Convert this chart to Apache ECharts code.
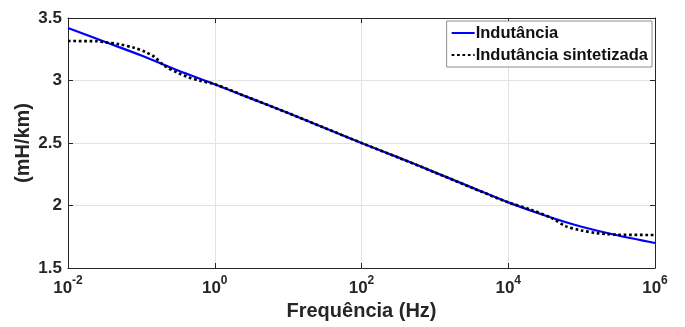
<!DOCTYPE html>
<html>
<head>
<meta charset="utf-8">
<script src="https://cdn.jsdelivr.net/npm/echarts@6/dist/echarts.min.js"></script>
<style>
html,body{margin:0;padding:0;background:#fff;}
#c{width:685px;height:327px;}
</style>
</head>
<body>
<div id="c"></div>
<script>
// Frequency (Hz) and inductance (mH/km)
const freqMeasured = [1e-2, 3.16e-2, 1e-1, 3.16e-1, 1e0, 3.16e0, 1e1, 3.16e1, 1e2, 3.16e2, 1e3, 3.16e3, 1e4, 3.16e4, 1e5, 3.16e5, 1e6];
const inductance   = [3.42, 3.31, 3.20, 3.08, 2.97, 2.855, 2.74, 2.62, 2.50, 2.385, 2.265, 2.145, 2.025, 1.92, 1.83, 1.76, 1.70];

const freqSynth = [1e-2, 2.51e-2, 3.02e-2, 5.01e-2, 8.13e-2, 1.12e-1, 1.51e-1, 2.04e-1, 3.16e-1, 4.27e-1, 6.31e-1, 1e0, 3.16e0, 1e1, 3.16e1, 1e2, 3.16e2, 1e3, 3.16e3, 1e4, 2.09e4, 3.98e4, 6.03e4, 1e5, 1.58e5, 2.19e5, 3.16e5, 1e6];
const inductanceSynth = [3.316, 3.314, 3.308, 3.29, 3.26, 3.23, 3.188, 3.12, 3.06, 3.028, 2.998, 2.97, 2.855, 2.74, 2.62, 2.50, 2.383, 2.265, 2.143, 2.025, 1.964, 1.897, 1.835, 1.80, 1.78, 1.772, 1.766, 1.764];

const seriesNames = ['Indutância', 'Indutância sintetizada'];
const yTicks = {min: 1.5, max: 3.5, step: 0.5};
const xTicks = {min: 1e-2, max: 1e6, stepDecades: 2};

const FONT = '"Liberation Sans", Arial, sans-serif';

function pairs(xs, ys){ return xs.map((x,i)=>[x, ys[i]]); }

function supLabel(v){
  const e = Math.round(Math.log10(v));
  return '{b|10}{s|' + e + '}';
}

const chart = echarts.init(document.getElementById('c'), null, {renderer:'canvas'});
chart.setOption({
  animation: false,
  backgroundColor: '#fff',
  grid: {left: 68, right: 30, top: 18, bottom: 59, containLabel: false},
  legend: {
    orient: 'vertical',
    right: 33, top: 21,
    padding: [3, 4, 3, 4],
    itemGap: 4,
    itemWidth: 23, itemHeight: 14,
    backgroundColor: '#fff',
    borderColor: '#8c8c8c', borderWidth: 1, borderRadius: 0,
    itemStyle: {opacity: 0},
    textStyle: {fontFamily: FONT, fontWeight: 'bold', fontSize: 16.5, color: '#111', lineHeight: 18, padding: [0,0,0,-4]},
    data: seriesNames
  },
  xAxis: [{
    type: 'log', logBase: 10,
    min: xTicks.min, max: xTicks.max, interval: xTicks.stepDecades,
    name: 'Frequência (Hz)', nameLocation: 'middle', nameGap: 33, nameMoveOverlap: false,
    nameTextStyle: {fontFamily: FONT, fontWeight: 'bold', fontSize: 20, color: '#262626'},
    axisLine: {show: true, lineStyle: {color: '#262626', width: 1}},
    axisTick: {show: true, inside: true, length: 5, lineStyle: {color: '#262626'}},
    minorTick: {show: false},
    axisLabel: {
      margin: 7,
      formatter: supLabel,
      rich: {
        b: {fontFamily: FONT, fontWeight: 'bold', fontSize: 17, color: '#262626', verticalAlign: 'bottom'},
        s: {fontFamily: FONT, fontWeight: 'bold', fontSize: 12, color: '#262626', verticalAlign: 'bottom', padding: [0,0,10,0]}
      }
    },
    splitLine: {show: true, lineStyle: {color: '#e2e2e2', width: 1}}
  }, {
    type: 'log', logBase: 10, position: 'top',
    min: xTicks.min, max: xTicks.max, interval: xTicks.stepDecades,
    axisLine: {show: true, lineStyle: {color: '#262626', width: 1}},
    axisTick: {show: true, inside: true, length: 5, lineStyle: {color: '#262626'}},
    axisLabel: {show: false},
    splitLine: {show: false}
  }],
  yAxis: [{
    type: 'value',
    min: yTicks.min, max: yTicks.max, interval: yTicks.step,
    name: '(mH/km)', nameLocation: 'middle', nameGap: 35, nameRotate: 90, nameMoveOverlap: false,
    nameTextStyle: {fontFamily: FONT, fontWeight: 'bold', fontSize: 20, color: '#262626'},
    axisLine: {show: true, lineStyle: {color: '#262626', width: 1}},
    axisTick: {show: true, inside: true, length: 5, lineStyle: {color: '#262626'}},
    axisLabel: {margin: 6, fontFamily: FONT, fontWeight: 'bold', fontSize: 17, color: '#262626'},
    splitLine: {show: true, lineStyle: {color: '#e2e2e2', width: 1}}
  }, {
    type: 'value', position: 'right',
    min: yTicks.min, max: yTicks.max, interval: yTicks.step,
    axisLine: {show: true, lineStyle: {color: '#262626', width: 1}},
    axisTick: {show: true, inside: true, length: 5, lineStyle: {color: '#262626'}},
    axisLabel: {show: false},
    splitLine: {show: false}
  }],
  series: [{
    name: seriesNames[0], type: 'line',
    data: pairs(freqMeasured, inductance),
    smooth: 0.3, showSymbol: false, symbol: 'none',
    lineStyle: {color: '#0000ff', width: 2.2},
    itemStyle: {color: '#0000ff'},
    z: 2
  }, {
    name: seriesNames[1], type: 'line',
    data: pairs(freqSynth, inductanceSynth),
    smooth: 0.3, showSymbol: false, symbol: 'none',
    lineStyle: {color: '#000', width: 2.7, type: [2.7, 2.7], cap: 'butt'},
    itemStyle: {color: '#000'},
    z: 3
  }]
});
</script>
</body>
</html>
